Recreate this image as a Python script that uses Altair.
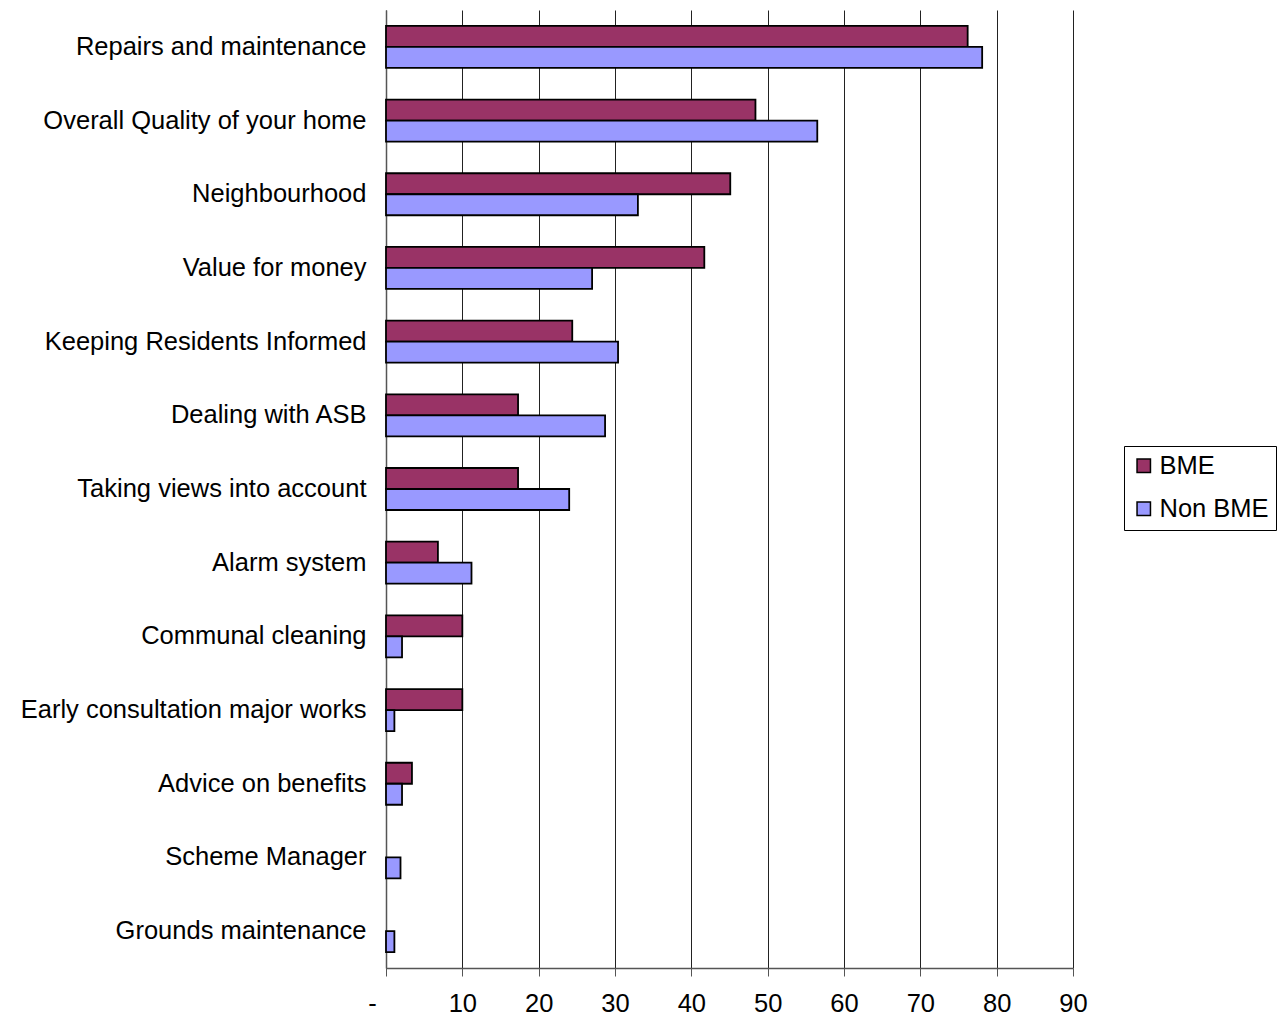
import altair as alt
import pandas as pd

categories = [
    "Repairs and maintenance",
    "Overall Quality of your home",
    "Neighbourhood",
    "Value for money",
    "Keeping Residents Informed",
    "Dealing with ASB",
    "Taking views into account",
    "Alarm system",
    "Communal cleaning",
    "Early consultation major works",
    "Advice on benefits",
    "Scheme Manager",
    "Grounds maintenance",
]
bme = [76.2, 48.4, 45.1, 41.7, 24.4, 17.3, 17.3, 6.8, 10.0, 10.0, 3.4, 0.0, 0.0]
non_bme = [78.1, 56.5, 33.0, 27.0, 30.4, 28.7, 24.0, 11.2, 2.1, 1.1, 2.1, 1.9, 1.1]
series = ["BME", "Non BME"]
colors = ["#993366", "#9999FF"]
x_ticks = [0, 10, 20, 30, 40, 50, 60, 70, 80, 90]

rows = []
for c, b, n in zip(categories, bme, non_bme):
    rows.append({"category": c, "series": "BME", "value": b})
    rows.append({"category": c, "series": "Non BME", "value": n})
df = pd.DataFrame(rows)

FONT = "Liberation Sans"
FS = 25.5

bars = alt.Chart(df).transform_filter("datum.value > 0").mark_bar(
    stroke="black", strokeWidth=1.8
).encode(
    x=alt.X(
        "value:Q",
        scale=alt.Scale(domain=[0, 90], nice=False),
        axis=alt.Axis(
            values=x_ticks,
            title=None,
            labelExpr="datum.value == 0 ? '-' : datum.label",
            labelOffset={"condition": {"test": "datum.value == 0", "value": -14}, "value": 0},
            labelFontSize=FS,
            labelFont=FONT,
            labelColor="black",
            labelPadding=15,
            labelFlush=False,
            tickSize=8,
            tickColor="#555",
            domainColor="#555",
            domainWidth=1.5,
            grid=True,
            gridColor="#222",
            gridWidth=1,
        ),
    ),
    y=alt.Y(
        "category:N",
        sort=categories,
        scale=alt.Scale(paddingInner=0.43, paddingOuter=0.215),
        axis=alt.Axis(
            title=None,
            labelFontSize=FS,
            labelFont=FONT,
            labelColor="black",
            labelPadding=20,
            ticks=False,
            domainColor="#555",
            domainWidth=1.5,
            labelLimit=400,
        ),
    ),
    yOffset=alt.YOffset("series:N", sort=series),
    color=alt.Color(
        "series:N",
        scale=alt.Scale(domain=series, range=colors),
        legend=alt.Legend(
            title=None,
            orient="none",
            legendX=738,
            legendY=436,
            labelFontSize=FS,
            labelFont=FONT,
            labelColor="black",
            symbolType="square",
            symbolSize=180,
            symbolStrokeColor="black",
            symbolStrokeWidth=1.5,
            strokeColor="black",
            padding=7,
            rowPadding=16,
            labelOffset=3,
        ),
    ),
)

chart = bars.properties(
    width=687,
    height=958,
    background="white",
    autosize=alt.AutoSizeParams(type="none"),
    padding={"left": 386, "top": 10, "right": 209, "bottom": 51},
).configure_view(stroke=None)

chart.save("out.html", embed_options={"renderer": "svg", "actions": False})
